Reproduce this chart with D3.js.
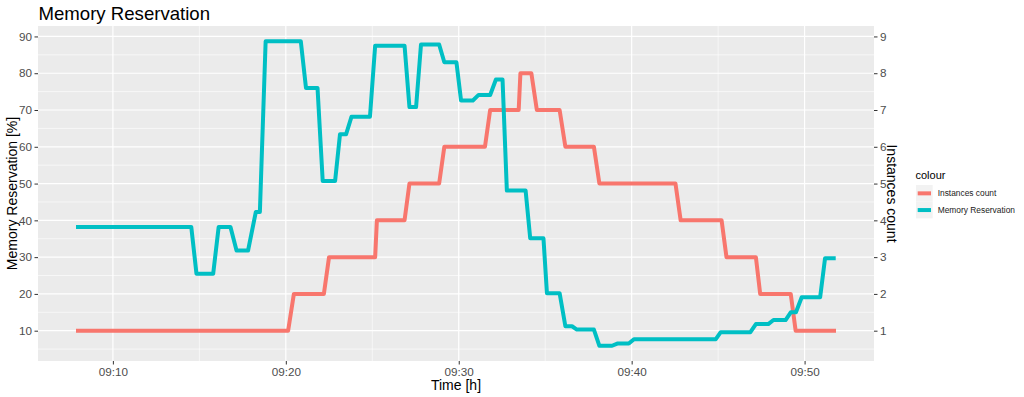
<!DOCTYPE html>
<html>
  <head>
    <meta charset="utf-8">
    <title>Memory Reservation</title>
    <script src="https://cdnjs.cloudflare.com/ajax/libs/d3/7.8.5/d3.min.js"></script>
    <style>
      body { margin: 0; background-color: white }
      svg { display: block }
      text { font-family: "Liberation Sans", Arial, sans-serif }
    </style>
  </head>
  <body>
    <div id="chart"></div>
  <script>

// memory reservation [%], corner points
var memTimes = ["09:07:52","09:14:32","09:14:50","09:15:48","09:16:07","09:16:48","09:17:09","09:17:49",
		"09:18:16","09:18:30","09:18:50","09:20:52","09:21:10","09:21:50","09:22:08","09:22:51",
		"09:23:08","09:23:29","09:23:48","09:24:52","09:25:10","09:26:52","09:27:09","09:27:32",
		"09:27:49","09:28:52","09:29:10","09:29:52","09:30:08","09:30:49","09:31:09","09:31:49",
		"09:32:09","09:32:32","09:32:47","09:33:52","09:34:08","09:34:54","09:35:06","09:35:50",
		"09:36:10","09:36:33","09:36:50","09:37:49","09:38:08","09:38:52","09:39:10","09:39:50",
		"09:40:08","09:44:52","09:45:09","09:46:52","09:47:11","09:47:54","09:48:12","09:48:54",
		"09:49:12","09:49:30","09:49:50","09:50:54","09:51:11","09:51:48"];
var memValues = [38.2,38.2,25.5,25.5,38.2,38.2,31.8,31.8,
		 42.3,42.3,88.7,88.7,76.0,76.0,50.7,50.7,
		 63.4,63.4,68.2,68.2,87.5,87.5,70.8,70.8,
		 87.8,87.8,83.0,83.0,72.6,72.6,74.1,74.1,
		 78.3,78.3,48.1,48.1,35.1,35.1,20.2,20.2,
		 11.2,11.2,10.3,10.3,5.9,5.9,6.5,6.5,
		 7.7,7.7,9.6,9.6,11.8,11.8,12.9,12.9,
		 15.0,15.0,19.1,19.1,29.7,29.7];

// instances count
var instTimes = ["09:07:52","09:20:08","09:20:28","09:22:12","09:22:30","09:25:10","09:25:16","09:26:52",
		 "09:27:09","09:28:52","09:29:10","09:31:31","09:31:49","09:33:28","09:33:34","09:34:12",
		 "09:34:31","09:35:50","09:36:10","09:37:49","09:38:08","09:42:32","09:42:50","09:45:12",
		 "09:45:29","09:47:11","09:47:26","09:49:12","09:49:29","09:51:49"];
var instValues = [1,1,2,2,3,3,4,4,
		  5,5,6,6,7,7,8,8,
		  7,7,6,6,5,5,4,4,
		  3,3,2,2,1,1];

var xTicks = ["09:10","09:20","09:30","09:40","09:50"];
var xMinor = ["09:15","09:25","09:35","09:45"];
var yTicks = [10,20,30,40,50,60,70,80,90];
var yMinor = [5,15,25,35,45,55,65,75,85];
var rightTicks = [1,2,3,4,5,6,7,8,9];
var seriesNames = ["Instances count","Memory Reservation"];
var seriesColors = ["#F8766D","#00BFC4"];

var W = 1024, H = 397;
var panel = {left: 38, right: 874, top: 26, bottom: 361};

var parseT = d3.timeParse("%H:%M:%S");
var parseHM = d3.timeParse("%H:%M");

var mem = memTimes.map(function(t, i){ return {t: parseT(t), v: memValues[i]} });
var inst = instTimes.map(function(t, i){ return {t: parseT(t), v: instValues[i] * 10} });

// ggplot style 5% expansion
function expand(ext){
    var d = (ext[1] - ext[0]) * 0.05;
    return [ext[0] - d, ext[1] + d];
}
var allT = mem.concat(inst).map(function(d){ return +d.t });
var allV = mem.concat(inst).map(function(d){ return d.v });
var xd = expand(d3.extent(allT));
var yd = expand(d3.extent(allV));

var x = d3.scaleTime()
    .domain([new Date(xd[0]), new Date(xd[1])])
    .range([panel.left, panel.right]);
var y = d3.scaleLinear()
    .domain(yd)
    .range([panel.bottom, panel.top]);
var y2 = d3.scaleLinear()
    .domain([yd[0] / 10, yd[1] / 10])
    .range([panel.bottom, panel.top]);

var svg = d3.select("#chart")
    .append("svg")
    .attr("width", W)
    .attr("height", H);

svg.append("rect")
    .attr("x", panel.left)
    .attr("y", panel.top)
    .attr("width", panel.right - panel.left)
    .attr("height", panel.bottom - panel.top)
    .style("fill", "#EBEBEB");

var grid = svg.append("g");
grid.selectAll(".ymin").data(yMinor).enter().append("line")
    .attr("x1", panel.left).attr("x2", panel.right)
    .attr("y1", function(d){ return y(d) }).attr("y2", function(d){ return y(d) })
    .style("stroke", "white").style("stroke-width", 0.6);
grid.selectAll(".xmin").data(xMinor).enter().append("line")
    .attr("y1", panel.top).attr("y2", panel.bottom)
    .attr("x1", function(d){ return x(parseHM(d)) }).attr("x2", function(d){ return x(parseHM(d)) })
    .style("stroke", "white").style("stroke-width", 0.6);
grid.selectAll(".ymaj").data(yTicks).enter().append("line")
    .attr("x1", panel.left).attr("x2", panel.right)
    .attr("y1", function(d){ return y(d) }).attr("y2", function(d){ return y(d) })
    .style("stroke", "white").style("stroke-width", 1.2);
grid.selectAll(".xmaj").data(xTicks).enter().append("line")
    .attr("y1", panel.top).attr("y2", panel.bottom)
    .attr("x1", function(d){ return x(parseHM(d)) }).attr("x2", function(d){ return x(parseHM(d)) })
    .style("stroke", "white").style("stroke-width", 1.2);

var line = d3.line()
    .x(function(d){ return x(d.t) })
    .y(function(d){ return y(d.v) });

[inst, mem].forEach(function(s, i){
    svg.append("path")
	.datum(s)
	.attr("d", line)
	.style("fill", "none")
	.style("stroke", seriesColors[i])
	.style("stroke-width", 4)
	.style("stroke-linejoin", "round");
});

// axes
function styleAxis(g){
    g.select(".domain").remove();
    g.selectAll(".tick line").style("stroke", "#333333");
    g.selectAll(".tick text")
	.style("fill", "#4D4D4D")
	.style("font-size", "11.7px")
	.style("font-family", "'Liberation Sans', Arial, sans-serif");
}

svg.append("g")
    .attr("transform", "translate(0," + panel.bottom + ")")
    .call(d3.axisBottom(x)
	  .tickValues(xTicks.map(function(d){ return parseHM(d) }))
	  .tickFormat(d3.timeFormat("%H:%M"))
	  .tickSize(3.5).tickPadding(3))
    .call(styleAxis);

svg.append("g")
    .attr("transform", "translate(" + panel.left + ",0)")
    .call(d3.axisLeft(y).tickValues(yTicks).tickSize(3.5).tickPadding(2.5))
    .call(styleAxis);

svg.append("g")
    .attr("transform", "translate(" + panel.right + ",0)")
    .call(d3.axisRight(y2).tickValues(rightTicks).tickSize(3.5).tickPadding(2.5))
    .call(styleAxis);

// titles
svg.append("text")
    .attr("x", 38.5).attr("y", 19.5)
    .style("font-size", "18.6px")
    .text("Memory Reservation");

var midY = (panel.top + panel.bottom) / 2;
svg.append("text")
    .attr("transform", "translate(17," + midY + ") rotate(-90)")
    .attr("text-anchor", "middle")
    .style("font-size", "14px")
    .text("Memory Reservation [%]");

svg.append("text")
    .attr("transform", "translate(887," + midY + ") rotate(90)")
    .attr("text-anchor", "middle")
    .style("font-size", "14px")
    .text("Instances count");

svg.append("text")
    .attr("x", (panel.left + panel.right) / 2).attr("y", 390)
    .attr("text-anchor", "middle")
    .style("font-size", "14px")
    .text("Time [h]");

// legend
var lg = svg.append("g").attr("transform", "translate(915,0)");
lg.append("text")
    .attr("x", 0.5).attr("y", 179)
    .style("font-size", "11px")
    .text("colour");

var key = lg.selectAll(".key").data(seriesNames).enter().append("g")
    .attr("transform", function(d, i){ return "translate(0," + (185 + i * 16.7) + ")" });
key.append("rect")
    .attr("x", 1).attr("width", 16.7).attr("height", 16.7)
    .style("fill", "#F2F2F2");
key.append("line")
    .attr("x1", 2.7).attr("x2", 16)
    .attr("y1", 8.35).attr("y2", 8.35)
    .style("stroke", function(d, i){ return seriesColors[i] })
    .style("stroke-width", 4);
key.append("text")
    .attr("x", 22.7).attr("y", 8.35)
    .attr("dy", "0.35em")
    .style("font-size", "8.4px")
    .style("fill", "#1A1A1A")
    .text(function(d){ return d });

  </script>
  </body>
</html>
